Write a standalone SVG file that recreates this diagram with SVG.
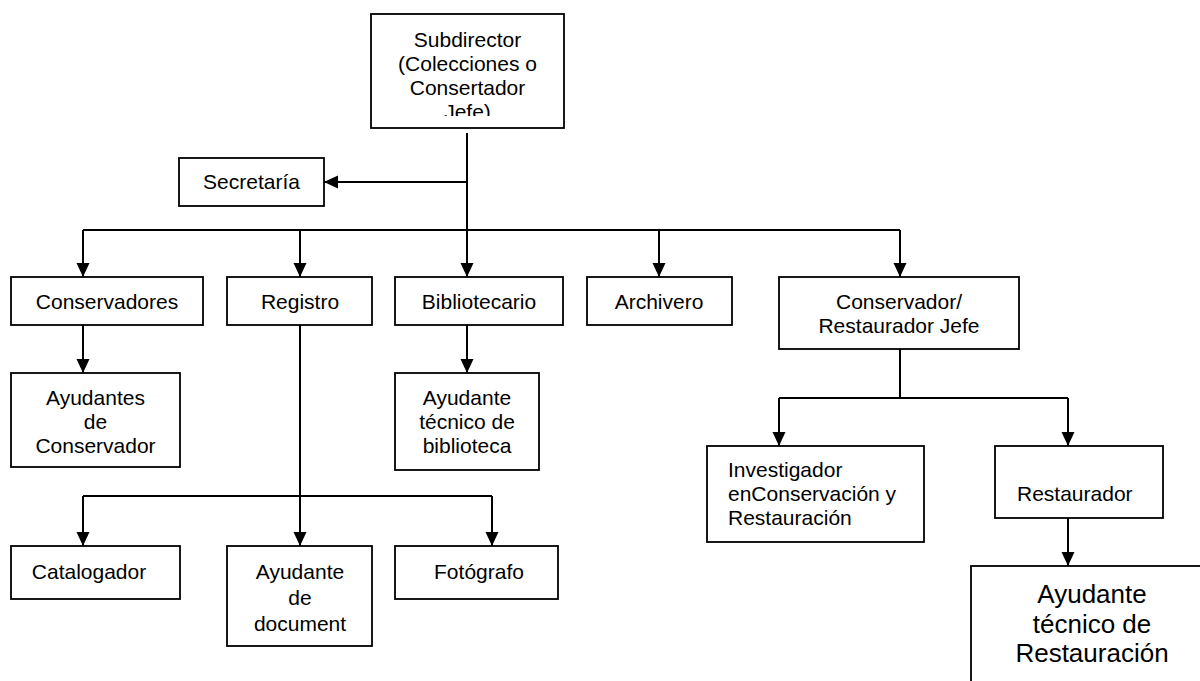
<svg xmlns="http://www.w3.org/2000/svg" width="1200" height="681" viewBox="0 0 1200 681">
<style>
.box{fill:#fff;stroke:#000;stroke-width:1.8}
.t{font-family:"Liberation Sans",Arial,sans-serif;font-size:21px;fill:#000;text-anchor:middle}
.ts{font-family:"Liberation Sans",Arial,sans-serif;font-size:21px;fill:#000}
.tb{font-family:"Liberation Sans",Arial,sans-serif;font-size:26px;fill:#000;text-anchor:middle}
.c{fill:none;stroke:#000;stroke-width:2}
.a{fill:none;stroke:#000;stroke-width:2;marker-end:url(#ah)}
</style>
<defs>
<marker id="ah" markerUnits="userSpaceOnUse" markerWidth="14" markerHeight="14" viewBox="0 0 14 14" refX="14" refY="7" orient="auto">
<path d="M0,0.5 L14,7 L0,13.5 Z" fill="#000"/>
</marker>
<clipPath id="clipSub"><rect x="371" y="14" width="193" height="102"/></clipPath>
</defs>
<rect width="1200" height="681" fill="#fff"/>
<g id="connectors">
<path class="c" d="M467,133 V230"/>
<path class="a" d="M467,182 H324"/>
<path class="c" d="M83,230 H900"/>
<path class="a" d="M83,230 V277"/>
<path class="a" d="M300,230 V277"/>
<path class="a" d="M467,230 V277"/>
<path class="a" d="M659,230 V277"/>
<path class="a" d="M900,230 V277"/>
<path class="a" d="M83,325 V373"/>
<path class="a" d="M467,325 V373"/>
<path class="a" d="M300,325 V546"/>
<path class="c" d="M83,496 H492"/>
<path class="a" d="M83,496 V546"/>
<path class="a" d="M492,496 V546"/>
<path class="c" d="M900,349 V398 M779,398 H1068"/>
<path class="a" d="M779,398 V446"/>
<path class="a" d="M1068,398 V446"/>
<path class="a" d="M1068,518 V566"/>
</g>
<g id="subdirector">
<rect class="box" x="371" y="14" width="193" height="114"/>
<g clip-path="url(#clipSub)">
<text class="t" x="467.5" y="46.5">Subdirector</text>
<text class="t" x="467.5" y="70.5">(Colecciones o</text>
<text class="t" x="467.5" y="94.5">Consertador</text>
<text class="t" x="467.5" y="118.5">Jefe)</text>
</g>
</g>
<g id="secretaria">
<rect class="box" x="179" y="158" width="145" height="48"/>
<text class="t" x="251.5" y="189">Secretaría</text>
</g>
<g id="conservadores">
<rect class="box" x="11" y="277" width="192" height="48"/>
<text class="t" x="107" y="309">Conservadores</text>
</g>
<g id="registro">
<rect class="box" x="227" y="277" width="145" height="48"/>
<text class="t" x="300" y="309">Registro</text>
</g>
<g id="bibliotecario">
<rect class="box" x="395" y="277" width="168" height="48"/>
<text class="t" x="479" y="309">Bibliotecario</text>
</g>
<g id="archivero">
<rect class="box" x="587" y="277" width="145" height="48"/>
<text class="t" x="659" y="309">Archivero</text>
</g>
<g id="conservador-restaurador-jefe">
<rect class="box" x="779" y="277" width="240" height="72"/>
<text class="t" x="899" y="309">Conservador/</text>
<text class="t" x="899" y="333">Restaurador Jefe</text>
</g>
<g id="ayudantes-conservador">
<rect class="box" x="11" y="373" width="169" height="94"/>
<text class="t" x="95.5" y="405">Ayudantes</text>
<text class="t" x="95.5" y="429">de</text>
<text class="t" x="95.5" y="453">Conservador</text>
</g>
<g id="ayudante-biblioteca">
<rect class="box" x="395" y="373" width="144" height="97"/>
<text class="t" x="467" y="405">Ayudante</text>
<text class="t" x="467" y="429">técnico de</text>
<text class="t" x="467" y="453">biblioteca</text>
</g>
<g id="investigador">
<rect class="box" x="707" y="446" width="217" height="96"/>
<text class="ts" x="728" y="477">Investigador</text>
<text class="ts" x="728" y="501">enConservación y</text>
<text class="ts" x="728" y="525">Restauración</text>
</g>
<g id="restaurador">
<rect class="box" x="995" y="446" width="168" height="72"/>
<text class="ts" x="1017" y="501">Restaurador</text>
</g>
<g id="ayudante-restauracion">
<rect class="box" x="971" y="566" width="245" height="130"/>
<text class="tb" x="1092" y="603">Ayudante</text>
<text class="tb" x="1092" y="633">técnico de</text>
<text class="tb" x="1092" y="662">Restauración</text>
</g>
<g id="catalogador">
<rect class="box" x="11" y="546" width="169" height="53"/>
<text class="t" x="89" y="579">Catalogador</text>
</g>
<g id="ayudante-document">
<rect class="box" x="227" y="546" width="145" height="100"/>
<text class="t" x="300" y="579">Ayudante</text>
<text class="t" x="300" y="605">de</text>
<text class="t" x="300" y="631">document</text>
</g>
<g id="fotografo">
<rect class="box" x="395" y="546" width="163" height="53"/>
<text class="t" x="479" y="579">Fotógrafo</text>
</g>
</svg>
